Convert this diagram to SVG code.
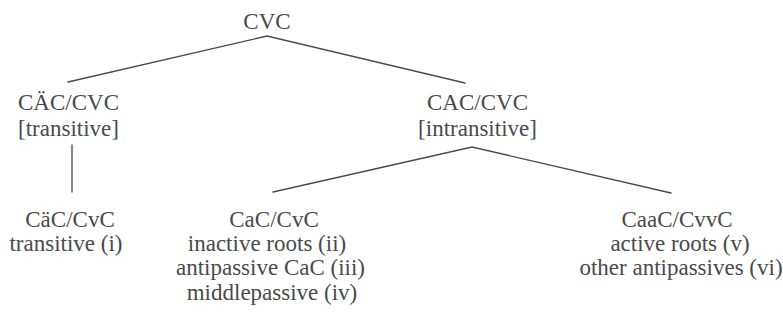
<svg xmlns="http://www.w3.org/2000/svg" width="783" height="325" viewBox="0 0 783 325">
  <style>
    text { font-family: "Liberation Serif", "DejaVu Serif", serif; font-size: 23px; fill: #4a4a4a; text-anchor: middle; }
    .edge { stroke: #4a4a4a; stroke-width: 1.3; fill: none; stroke-linecap: round; }
  </style>
  <rect width="783" height="325" fill="#ffffff"/>
  <g id="connectors">
    <polyline class="edge" points="68,82 267,36 465,83"/>
    <line class="edge" x1="72" y1="145" x2="72" y2="192"/>
    <polyline class="edge" points="273,192 472,147 671,193"/>
  </g>
  <g id="root">
    <text x="267" y="28.5">CVC</text>
  </g>
  <g id="transitive">
    <text x="68.5" y="110">CÄC/CVC</text>
    <text x="68.5" y="136">[transitive]</text>
  </g>
  <g id="intransitive">
    <text x="477.5" y="110">CAC/CVC</text>
    <text x="477.5" y="136">[intransitive]</text>
  </g>
  <g id="leaf-transitive">
    <text x="70" y="226.5">CäC/CvC</text>
    <text x="66" y="250.5">transitive (i)</text>
  </g>
  <g id="leaf-inactive">
    <text x="274" y="226.5">CaC/CvC</text>
    <text x="267" y="250.5">inactive roots (ii)</text>
    <text x="270.5" y="275">antipassive CaC (iii)</text>
    <text x="272" y="299.5">middlepassive (iv)</text>
  </g>
  <g id="leaf-active">
    <text x="677" y="226.5">CaaC/CvvC</text>
    <text x="680" y="250.5">active roots (v)</text>
    <text x="681" y="275">other antipassives (vi)</text>
  </g>
</svg>
